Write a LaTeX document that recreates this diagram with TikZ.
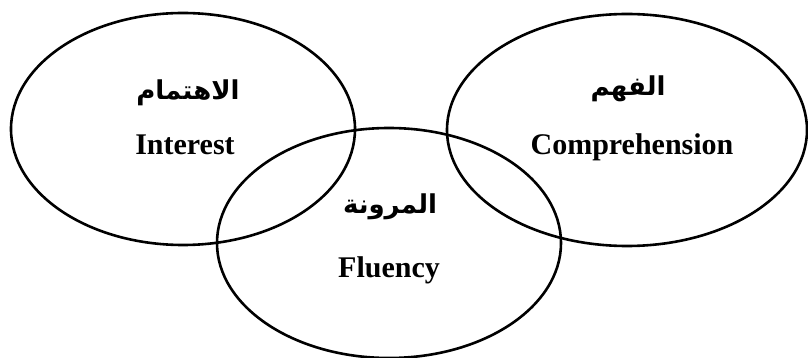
\documentclass[tikz,border=0pt]{standalone}
\usepackage{fontspec}
\setmainfont{Liberation Serif}
\newfontfamily\arabicfont[Script=Arabic]{DejaVu Sans}
\TeXXeTstate=1
\usetikzlibrary{shapes.geometric}
\tikzset{
  venn/.style={draw=black, ellipse, line width=2.6pt, inner sep=0pt, outer sep=0pt},
  entxt/.style={font=\fontsize{30}{32}\selectfont\bfseries, inner sep=0pt, anchor=base},
  artxt/.style={font=\arabicfont\fontsize{26}{30}\selectfont\bfseries, inner sep=0pt},
}
\begin{document}
\begin{tikzpicture}[x=1pt, y=-1pt]
\useasboundingbox (0,0) rectangle (808,358);
\node[venn, minimum width=344pt, minimum height=232pt] (interest) at (183,129) {};
\node[venn, minimum width=360pt, minimum height=232pt] (compr) at (627,130) {};
\node[venn, minimum width=344pt, minimum height=230pt] (fluency) at (389,243) {};
\node[artxt] (arI) at (188,93) {\beginR الاهتمام\endR};
\node[entxt] (enI) at (185,155) {Interest};
\node[artxt] (arC) at (628,89) {\beginR الفهم\endR};
\node[entxt] (enC) at (632,155) {Comprehension};
\node[artxt] (arF) at (390,207) {\beginR المرونة\endR};
\node[entxt] (enF) at (389,277) {Fluency};
\end{tikzpicture}
\end{document}
